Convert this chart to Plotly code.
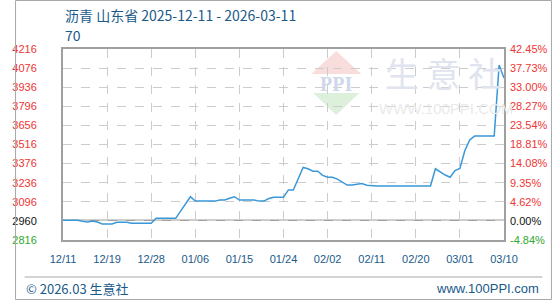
import plotly.graph_objects as go

# ---------------- data ----------------
tick_labels_x = ["12/11", "12/19", "12/28", "01/06", "01/15", "01/24",
                 "02/02", "02/11", "02/20", "03/01", "03/10"]
tick_index_x = [0, 9, 18, 27, 36, 45, 54, 63, 72, 81, 90]

price = [
    2960, 2960, 2960, 2960, 2953, 2948, 2955, 2948, 2934, 2934,
    2934, 2946, 2946, 2946, 2939, 2939, 2939, 2939, 2939, 2975,
    2975, 2975, 2975, 2975, 3028, 3080, 3133, 3101, 3101, 3101,
    3101, 3101, 3109, 3109, 3122, 3133, 3109, 3109, 3109, 3109,
    3101, 3101, 3120, 3130, 3130, 3130, 3183, 3183, 3265, 3348,
    3338, 3320, 3320, 3290, 3276, 3276, 3262, 3240, 3219, 3219,
    3225, 3230, 3217, 3212, 3212, 3212, 3212, 3212, 3212, 3212,
    3212, 3212, 3212, 3212, 3212, 3212, 3338, 3312, 3292, 3276,
    3325, 3340, 3470, 3550, 3578, 3578, 3578, 3578, 3578, 4098,
    4003,
]
day_index = list(range(len(price)))

left_tick_values = [2816, 2956, 3096, 3236, 3376, 3516, 3656, 3796, 3936, 4076, 4216]
left_tick_labels = ["2816", "2960", "3096", "3236", "3376", "3516",
                    "3656", "3796", "3936", "4076", "4216"]
right_tick_labels = ["-4.84%", "0.00%", "4.62%", "9.35%", "14.08%", "18.81%",
                     "23.54%", "28.27%", "33.00%", "37.73%", "42.45%"]
base_price = 2960

title_text = "沥青 山东省 2025-12-11 - 2026-03-11"
subtitle_text = "70"
footer_left = "© 2026.03 生意社"
footer_right = "www.100PPI.com"

# ---------------- styling ----------------
RED = "#f03434"
GREEN = "#30a830"
BLACK = "#111111"
BLUE_TXT = "#1a5a8a"
LINE = "#3a98d8"
GRID = "#cccccc"
AXIS = "#a0a0a0"
FONT = "Liberation Sans, Arial, sans-serif"
CJK = "Noto Sans CJK SC, Liberation Sans, sans-serif"


def colored(lbl, i):
    c = GREEN if i == 0 else (BLACK if i == 1 else RED)
    return f"<span style='color:{c}'>{lbl}</span>"


L, R, T, B = 50, 50, 49, 60
W, H = 560, 300
PW, PH = W - L - R, H - T - B


def px(x):
    return (x - L) / PW


def py(y):
    return (H - B - y) / PH


fig = go.Figure()
fig.add_trace(go.Scatter(x=day_index, y=price, mode="lines",
                         line=dict(color=LINE, width=1.5),
                         showlegend=False, hoverinfo="skip"))
fig.add_trace(go.Scatter(x=[day_index[0]], y=[base_price], yaxis="y2",
                         mode="markers", marker=dict(size=1, opacity=0),
                         showlegend=False, hoverinfo="skip"))

fig.update_layout(
    width=W, height=H,
    margin=dict(l=L, r=R, t=T, b=B),
    paper_bgcolor="white", plot_bgcolor="white",
    font=dict(family=FONT, size=11),
    xaxis=dict(range=[day_index[0], day_index[-1]], tickvals=tick_index_x,
               ticktext=tick_labels_x, showgrid=True, gridcolor=GRID,
               griddash="dash", gridwidth=1, showline=True, linecolor=AXIS,
               linewidth=2, mirror=True, ticks="", zeroline=False,
               tickfont=dict(color=BLUE_TXT, size=11, family=FONT),
               ticklabelstandoff=8),
    yaxis=dict(range=[left_tick_values[0], left_tick_values[-1]],
               tickvals=left_tick_values,
               ticktext=[colored(t, i) for i, t in enumerate(left_tick_labels)],
               showgrid=True, gridcolor=GRID, griddash="dash", gridwidth=1,
               showline=True, linecolor=AXIS, linewidth=2, mirror=True,
               ticks="", zeroline=False, ticklabelstandoff=22,
               tickfont=dict(size=11, family=FONT)),
    yaxis2=dict(range=[left_tick_values[0], left_tick_values[-1]],
                tickvals=left_tick_values,
                ticktext=[colored(t, i) for i, t in enumerate(right_tick_labels)],
                overlaying="y", side="right", showgrid=False, zeroline=False,
                showline=False, ticks="", ticklabelstandoff=5,
                tickfont=dict(size=11, family=FONT)),
)

shapes = [
    # zero line at base price
    dict(type="line", xref="paper", yref="y", x0=0, x1=1, y0=base_price,
         y1=base_price, line=dict(color=AXIS, width=1.5), layer="below"),
    # footer separator
    dict(type="line", xref="paper", yref="paper", x0=px(10), x1=px(550),
         y0=py(277), y1=py(277), line=dict(color="#a8a8a8", width=1)),
    # outer frame
    dict(type="rect", xref="paper", yref="paper", x0=px(0.5), x1=px(559.5),
         y0=py(299.5), y1=py(0.5), line=dict(color="#a8a8a8", width=1)),
    # watermark logo triangles
    dict(type="path", xref="paper", yref="paper", layer="below",
         path=f"M {px(335)} {py(51)} L {px(309)} {py(74)} L {px(361)} {py(74)} Z",
         fillcolor="#f9dcdc", line=dict(width=0)),
    dict(type="path", xref="paper", yref="paper", layer="below",
         path=f"M {px(311)} {py(93)} L {px(359)} {py(93)} L {px(335)} {py(115)} Z",
         fillcolor="#dcf0dc", line=dict(width=0)),
]
fig.update_layout(shapes=shapes)

ann = [
    dict(text=title_text, x=px(50), y=py(15), xanchor="left", yanchor="middle",
         font=dict(family=CJK, size=14, color=BLUE_TXT)),
    dict(text=subtitle_text, x=px(50), y=py(35), xanchor="left", yanchor="middle",
         font=dict(family=CJK, size=14, color=BLUE_TXT)),
    dict(text=footer_left, x=px(9), y=py(288), xanchor="left", yanchor="middle",
         font=dict(family=CJK, size=13, color=BLUE_TXT)),
    dict(text=footer_right, x=px(549), y=py(288), xanchor="right", yanchor="middle",
         font=dict(family=FONT, size=13, color=BLUE_TXT)),
    dict(text="生 意 社", x=px(447), y=py(72), xanchor="center", yanchor="middle",
         font=dict(family=CJK, size=34, color="#dfe4ee")),
    dict(text="WWW.100PPI.COM", x=px(449), y=py(108), xanchor="center",
         yanchor="middle", font=dict(family=FONT, size=15, color="#eaeaea")),
    dict(text="<b>PPI</b>", x=px(335), y=py(83.5), xanchor="center",
         yanchor="middle", font=dict(family="Liberation Serif, serif", size=20,
                                     color="#cfd8ea")),
]
for a in ann:
    a.update(xref="paper", yref="paper", showarrow=False)
fig.update_layout(annotations=ann)

fig.write_html("out.html")
